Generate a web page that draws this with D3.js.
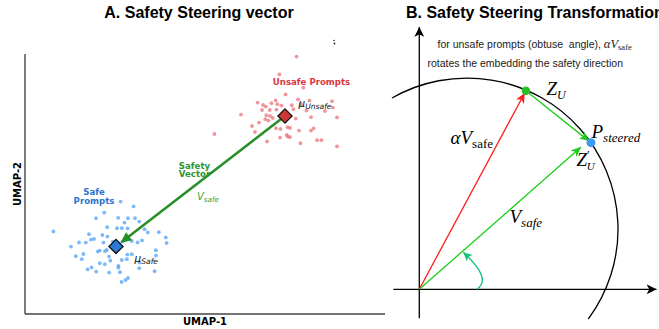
<!DOCTYPE html>
<html><head><meta charset="utf-8">
<script src="https://cdn.jsdelivr.net/npm/d3@7"></script>
<style>body{margin:0;background:#fff}svg{display:block}text{white-space:pre}</style>
</head><body><svg id="c" width="659" height="329"></svg>
<script>
// ---- Panel A: UMAP projection of prompt embeddings ----
const unsafeX = [13.58,12.72,13.92,13.03,13.65,11.63,12.32,12.53,12.62,11.90,12.04,12.82,13.34,14.22,15.35,11.85,12.24,12.57,13.42,14.07,15.39,15.00,10.80,12.07,12.25,12.39,12.02,13.54,14.30,12.17,11.70,11.35,12.55,12.77,13.12,13.25,13.70,14.43,14.30,11.50,9.47,13.09,13.14,12.75,13.25,12.10,14.60,14.82,13.77,15.60,15.60,13.80];
const unsafeY = [12.87,11.98,11.32,10.98,10.73,10.57,10.54,10.68,10.49,10.45,10.37,10.42,10.44,10.67,10.64,10.20,10.20,10.22,10.24,10.17,10.32,10.15,9.97,9.94,9.90,9.80,9.74,9.77,9.84,9.67,9.57,9.40,9.29,9.25,9.34,9.30,9.17,9.28,9.17,9.10,9.00,8.95,8.87,8.82,8.84,8.63,8.69,8.69,8.54,9.83,8.38,10.50];
const safeX = [4.78,5.43,3.96,3.55,4.66,5.15,5.50,5.71,4.97,1.42,4.11,4.60,4.84,5.13,5.98,6.14,6.69,3.20,3.87,4.12,7.04,7.08,3.45,3.30,3.92,4.39,4.87,5.34,5.63,5.85,2.70,3.04,2.30,3.74,4.09,4.00,3.64,2.92,5.12,5.34,2.54,4.20,2.84,4.84,5.09,6.54,6.55,3.74,3.99,4.67,4.67,3.33,3.13,3.56,4.21,5.71,5.72,6.48,4.75,5.15,5.03,4.83,4.27];
const safeY = [5.62,5.38,5.07,4.79,4.81,4.79,4.79,4.62,4.57,4.13,4.34,4.29,4.29,4.28,4.24,4.08,4.09,3.99,3.95,3.87,3.83,3.55,3.75,3.72,3.57,3.62,3.62,3.65,3.58,3.68,3.58,3.57,3.37,3.17,3.20,3.14,3.12,3.00,2.97,2.99,2.89,2.87,2.74,2.70,2.74,3.19,2.92,2.54,2.49,2.40,2.32,2.33,2.23,2.12,2.07,2.29,2.57,2.14,2.09,1.80,1.70,1.60,2.67];
const unsafeMean = [13.00, 9.90];
const safeMean = [4.55, 3.38];
const umapXDomain = [0, 18];
const umapYDomain = [0, 13];

// ---- Panel B: steering geometry (unit = embedding norm) ----
const origin = [0, 0];
const zU = [0.706, 1.315];
const pSteered = [1.137, 0.971];
const zUPrime = [1.071, 0.942];
const sphereCenter = [0.316, 0.399];
const sphereRadius = 1;
const sphereArcDeg = [119.8, -36.6];
const angleArc = [[0.380, 0], [0.4865, 0.0675], [0.291, 0.245]];
const bAxisX = [-0.172, 1.571];
const bAxisY = [-0.192, 1.737];

const svg = d3.select("#c");
const defs = svg.append("defs");

// stealth-style arrowheads
function marker(id, color, len, half) {
  defs.append("marker").attr("id", id)
    .attr("markerUnits", "userSpaceOnUse")
    .attr("viewBox", `${-len} ${-half} ${len} ${2*half}`)
    .attr("refX", 0).attr("refY", 0)
    .attr("markerWidth", len).attr("markerHeight", 2*half)
    .attr("orient", "auto")
    .append("path")
    .attr("d", `M0,0 L${-len},${-half} L${-len*0.72},0 L${-len},${half} Z`)
    .attr("fill", color);
}
marker("mBlack", "#000", 10, 5);
marker("mRed", "#ff1a1a", 10, 4.5);
marker("mGreen", "#1ccc1c", 10, 4.5);
marker("mTeal", "#16c27c", 9, 4.5);

// ================= Panel A =================
const x = d3.scaleLinear().domain(umapXDomain).range([25, 385]);
const y = d3.scaleLinear().domain(umapYDomain).range([314, 54]);
const gA = svg.append("g");

gA.append("text").attr("x", 199).attr("y", 18).attr("text-anchor", "middle")
  .attr("font-family", "Liberation Sans, Arial, sans-serif").attr("font-weight", "bold")
  .attr("font-size", 16).text("A. Safety Steering vector");

// spines
gA.append("line").attr("x1", x(0)).attr("x2", x(0)).attr("y1", y(umapYDomain[1])).attr("y2", y(0))
  .attr("stroke", "#444").attr("stroke-width", 1.4);
gA.append("line").attr("x1", x(0)).attr("x2", x(umapXDomain[1])).attr("y1", y(0)).attr("y2", y(0))
  .attr("stroke", "#444").attr("stroke-width", 1.4);

gA.append("text").attr("x", x(umapXDomain[1] / 2)).attr("y", 325).attr("text-anchor", "middle")
  .attr("font-family", "DejaVu Sans, sans-serif").attr("font-weight", "bold").attr("font-size", 10)
  .text("UMAP-1");
gA.append("text").attr("transform", `translate(21,${y(umapYDomain[1] / 2)}) rotate(-90)`)
  .attr("text-anchor", "middle")
  .attr("font-family", "DejaVu Sans, sans-serif").attr("font-weight", "bold").attr("font-size", 10)
  .text("UMAP-2");

// points
gA.append("g").selectAll("circle").data(unsafeX.map((d, i) => [d, unsafeY[i]])).join("circle")
  .attr("cx", d => x(d[0])).attr("cy", d => y(d[1])).attr("r", 1.9)
  .attr("fill", "#e86a72").attr("fill-opacity", 0.7);
gA.append("g").selectAll("circle").data(safeX.map((d, i) => [d, safeY[i]])).join("circle")
  .attr("cx", d => x(d[0])).attr("cy", d => y(d[1])).attr("r", 1.9)
  .attr("fill", "#5aa8f6").attr("fill-opacity", 0.8);

// safety vector arrow: unsafe centroid -> safe centroid
{
  const x0 = x(unsafeMean[0]), y0 = y(unsafeMean[1]);
  const x1 = x(safeMean[0]), y1 = y(safeMean[1]);
  const L = Math.hypot(x1 - x0, y1 - y0);
  const ux = (x1 - x0) / L, uy = (y1 - y0) / L;
  const tipX = x1 - ux * 5.5, tipY = y1 - uy * 5.5;
  const head = 11, hw = 5;
  const bx = tipX - ux * head, by = tipY - uy * head;
  gA.append("line").attr("x1", x0).attr("y1", y0).attr("x2", bx + ux * 2).attr("y2", by + uy * 2)
    .attr("stroke", "#2a8f2a").attr("stroke-width", 2.6);
  gA.append("path")
    .attr("d", `M${tipX},${tipY} L${bx - uy * hw},${by + ux * hw} L${bx + uy * hw},${by - ux * hw} Z`)
    .attr("fill", "#2a8f2a");
}

// centroids
const diamond = d3.symbol().type(d3.symbolSquare).size(100);
gA.append("path").attr("d", diamond())
  .attr("transform", `translate(${x(unsafeMean[0])},${y(unsafeMean[1])}) rotate(45)`)
  .attr("fill", "#cf3636").attr("stroke", "#111").attr("stroke-width", 1.3);
gA.append("path").attr("d", diamond())
  .attr("transform", `translate(${x(safeMean[0])},${y(safeMean[1])}) rotate(45)`)
  .attr("fill", "#2c7ad8").attr("stroke", "#111").attr("stroke-width", 1.3);

// small marks at the top-right
gA.append("circle").attr("cx", 334).attr("cy", 40.5).attr("r", 0.8).attr("fill", "#222");
gA.append("circle").attr("cx", 334.5).attr("cy", 43.5).attr("r", 0.9).attr("fill", "#222");

// annotations
const dj = "DejaVu Sans, sans-serif";
gA.append("text").attr("x", 311.5).attr("y", 84.5).attr("text-anchor", "middle")
  .attr("font-family", dj).attr("font-weight", "bold").attr("font-size", 8.6)
  .attr("fill", "#d63a3f").text("Unsafe Prompts");
const mu1 = gA.append("text").attr("x", 298.5).attr("y", 106.5).attr("font-family", dj).attr("fill", "#111");
mu1.append("tspan").attr("font-size", 10.5).attr("font-style", "italic").text("μ");
mu1.append("tspan").attr("font-size", 7.6).attr("font-style", "italic").attr("dy", 2).text("Unsafe");

gA.append("text").attr("x", 94).attr("y", 195).attr("text-anchor", "middle")
  .attr("font-family", dj).attr("font-weight", "bold").attr("font-size", 8.6)
  .attr("fill", "#2f74cc").text("Safe");
gA.append("text").attr("x", 94).attr("y", 204).attr("text-anchor", "middle")
  .attr("font-family", dj).attr("font-weight", "bold").attr("font-size", 8.6)
  .attr("fill", "#2f74cc").text("Prompts");
const mu2 = gA.append("text").attr("x", 134.5).attr("y", 262).attr("font-family", dj).attr("fill", "#111");
mu2.append("tspan").attr("font-size", 10.5).attr("font-style", "italic").text("μ");
mu2.append("tspan").attr("font-size", 7.6).attr("font-style", "italic").attr("dy", 2).text("Safe");

gA.append("text").attr("x", 194.5).attr("y", 168.5).attr("text-anchor", "middle")
  .attr("font-family", dj).attr("font-weight", "bold").attr("font-size", 8.6)
  .attr("fill", "#2e962e").text("Safety");
gA.append("text").attr("x", 194.5).attr("y", 177).attr("text-anchor", "middle")
  .attr("font-family", dj).attr("font-weight", "bold").attr("font-size", 8.6)
  .attr("fill", "#2e962e").text("Vector");
const vs = gA.append("text").attr("x", 197).attr("y", 200).attr("font-family", dj).attr("fill", "#3a9e3a");
vs.append("tspan").attr("font-size", 10).attr("font-style", "italic").text("V");
vs.append("tspan").attr("font-size", 7.2).attr("font-style", "italic").attr("dy", 1.8).text("safe");

// ================= Panel B =================
const bx = d3.scaleLinear().domain([0, 1]).range([419.3, 570.3]);
const by = d3.scaleLinear().domain([0, 1]).range([289.3, 138.3]);
const gB = svg.append("g");
const serif = "Liberation Serif, 'DejaVu Serif', serif";
const sans = "Liberation Sans, Arial, sans-serif";

gB.append("text").attr("x", 406).attr("y", 18)
  .attr("font-family", sans).attr("font-weight", "bold").attr("font-size", 16)
  .text("B. Safety Steering Transformation");

// caption
const cap1 = gB.append("text").attr("x", 437.5).attr("y", 48).attr("font-family", sans).attr("font-size", 10.5).attr("fill", "#1a1a1a");
cap1.append("tspan").text("for unsafe prompts (obtuse  angle), ");
cap1.append("tspan").attr("font-family", serif).attr("font-style", "italic").attr("font-size", 12.5).text("αV");
cap1.append("tspan").attr("font-family", serif).attr("font-size", 8.5).attr("dy", 2).text("safe");
gB.append("text").attr("x", 427.5).attr("y", 66.5).attr("font-family", sans).attr("font-size", 10.5).attr("fill", "#1a1a1a")
  .text("rotates the embedding the safety direction");

// coordinate axes
gB.append("line").attr("x1", bx(bAxisX[0])).attr("x2", bx(bAxisX[1])).attr("y1", by(0)).attr("y2", by(0))
  .attr("stroke", "#000").attr("stroke-width", 1.3).attr("marker-end", "url(#mBlack)");
gB.append("line").attr("x1", bx(0)).attr("x2", bx(0)).attr("y1", by(bAxisY[0])).attr("y2", by(bAxisY[1]))
  .attr("stroke", "#000").attr("stroke-width", 1.3).attr("marker-end", "url(#mBlack)");

// unit sphere arc
{
  const p = d3.path();
  const r = bx(sphereRadius) - bx(0);
  const a0 = -sphereArcDeg[0] * Math.PI / 180, a1 = -sphereArcDeg[1] * Math.PI / 180;
  p.arc(bx(sphereCenter[0]), by(sphereCenter[1]), r, a0, a1, false);
  gB.append("path").attr("d", p.toString()).attr("fill", "none").attr("stroke", "#000").attr("stroke-width", 1.3);
}

// angle arc
{
  const p = d3.path();
  p.moveTo(bx(angleArc[0][0]), by(angleArc[0][1]));
  p.quadraticCurveTo(bx(angleArc[1][0]), by(angleArc[1][1]), bx(angleArc[2][0]), by(angleArc[2][1]));
  gB.append("path").attr("d", p.toString()).attr("fill", "none").attr("stroke", "#16c27c")
    .attr("stroke-width", 1.4).attr("marker-end", "url(#mTeal)");
}

// vectors
function shorten(a, b, px) {
  const X0 = bx(a[0]), Y0 = by(a[1]), X1 = bx(b[0]), Y1 = by(b[1]);
  const L = Math.hypot(X1 - X0, Y1 - Y0);
  return [X0, Y0, X1 - (X1 - X0) / L * px, Y1 - (Y1 - Y0) / L * px];
}
function vec(a, b, px, color, m) {
  const s = shorten(a, b, px);
  gB.append("line").attr("x1", s[0]).attr("y1", s[1]).attr("x2", s[2]).attr("y2", s[3])
    .attr("stroke", color).attr("stroke-width", 1.3).attr("marker-end", `url(#${m})`);
}
vec(origin, zU, 2.5, "#ff1a1a", "mRed");
vec(origin, zUPrime, 0, "#1ccc1c", "mGreen");
vec(zU, pSteered, 2.5, "#1ccc1c", "mGreen");

gB.append("circle").attr("cx", bx(zU[0])).attr("cy", by(zU[1])).attr("r", 4.2).attr("fill", "#25c025");
gB.append("circle").attr("cx", bx(pSteered[0])).attr("cy", by(pSteered[1])).attr("r", 4.5).attr("fill", "#3c9cf2");

// math labels
function mathLabel(xp, yp, main, sub, opts = {}) {
  const t = gB.append("text").attr("x", xp).attr("y", yp).attr("font-family", serif).attr("fill", "#000");
  t.append("tspan").attr("font-style", "italic").attr("font-size", opts.size || 18).text(main);
  if (opts.prime) t.append("tspan").attr("font-size", 12).attr("dy", -7).text("′");
  t.append("tspan").attr("font-style", opts.subUpright ? "normal" : "italic")
    .attr("font-size", opts.subSize || 12).attr("dy", opts.prime ? 11 : 4).attr("dx", opts.prime ? -3 : 0).text(sub);
  return t;
}
mathLabel(546.5, 95, "Z", "U", { size: 19, subSize: 12 });
mathLabel(591.5, 138, "P", "steered", { size: 19, subSize: 13 });
mathLabel(576.5, 166, "Z", "U", { size: 19, subSize: 11, prime: true });
mathLabel(450.5, 144, "αV", "safe", { size: 19, subSize: 13, subUpright: true });
mathLabel(509.5, 223, "V", "safe", { size: 19, subSize: 13 });
</script>
</body></html>
